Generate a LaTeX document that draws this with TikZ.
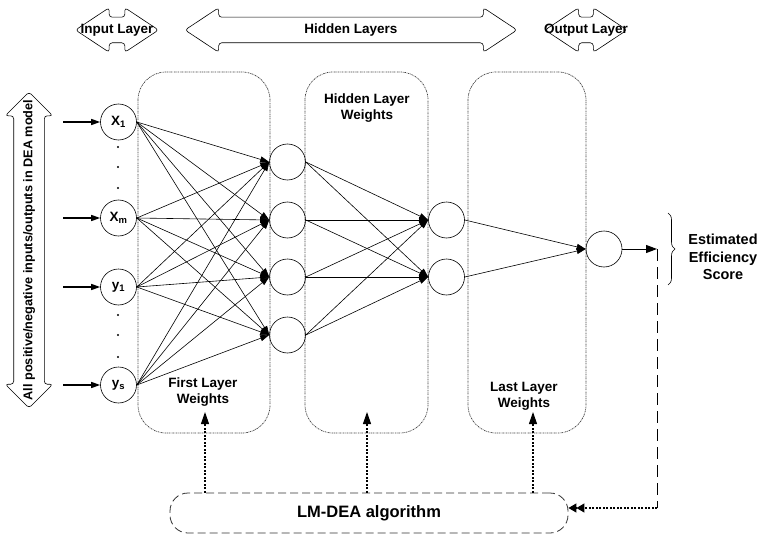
\documentclass[tikz,border=0pt]{standalone}
\usepackage{fontspec}
\setmainfont{Liberation Sans}
\usetikzlibrary{shapes.arrows,arrows.meta,decorations.pathreplacing}

\tikzset{
  neuron/.style={draw, circle, minimum size=36pt, inner sep=0pt, line width=0.6pt},
  layerarrow/.style={draw, double arrow, double arrow head extend=9.5pt,
    double arrow tip angle=67, inner sep=12.5pt, rounded corners=3pt, line width=0.6pt},
  wbox/.style={draw=black!75, dash pattern=on 1.5pt off 0.8pt on 0.6pt off 0.8pt, rounded corners=28pt, line width=0.7pt},
  wlabel/.style={align=center},
  link/.style={-{Triangle[length=9pt,width=6pt]}, line width=0.6pt},
  feed/.style={-{Triangle[length=9pt,width=6pt]}, line width=1.3pt},
  update/.style={-{Triangle[length=12pt,width=8pt]}, dash pattern=on 2pt off 1.5pt, line width=1.1pt},
}

\begin{document}
\begin{tikzpicture}[x=1pt, y=-1pt, font=\fontsize{13.5}{16}\selectfont\bfseries]
    \useasboundingbox (0,0) rectangle (761,535);
    % layer captions
    \node[layerarrow, minimum height=83, label=center:{Input Layer}] (inlayer) at (117,30) {};
    \node[layerarrow, minimum height=332, label=center:{Hidden Layers}] (hidlayer) at (351,30) {};
    \node[layerarrow, minimum height=82, label=center:{Output Layer}] (outlayer) at (586,30) {};
    \node[layerarrow, shape border rotate=90, double arrow tip angle=90, double arrow head extend=8.5pt,
      inner sep=15pt, minimum height=316,
      label={[rotate=90, font=\fontsize{12.7}{15}\selectfont\bfseries]center:{All positive/negative inputs/outputs in DEA model}}] (dea) at (29,250) {};
    % weight boxes
    \draw[wbox] (138,72) rectangle (270,433);
    \draw[wbox] (305,72) rectangle (428,433);
    \draw[wbox] (468,72) rectangle (586,433);
    \node[wlabel] (w1) at (203,392) {First Layer\\Weights};
    \node[wlabel] (w2) at (367,108) {Hidden Layer\\Weights};
    \node[wlabel] (w3) at (524,396) {Last Layer\\Weights};
    % neurons
    \node[neuron] (in1) at (118.5,122) {X\textsubscript{1}};
    \node[neuron] (in2) at (118.5,218) {X\textsubscript{m}};
    \node[neuron] (in3) at (118.5,287) {y\textsubscript{1}};
    \node[neuron] (in4) at (118.5,385) {y\textsubscript{s}};
    \node[neuron] (ha1) at (287.5,162) {};
    \node[neuron] (ha2) at (287.5,220) {};
    \node[neuron] (ha3) at (287.5,277) {};
    \node[neuron] (ha4) at (287.5,335) {};
    \node[neuron] (hb1) at (446.5,220) {};
    \node[neuron] (hb2) at (446.5,277) {};
    \node[neuron] (out) at (604,249) {};
    \foreach \y in {147,167,188,315,335,357}
      \fill (118,\y) circle (1.1);
    % connections
    \foreach \i in {1,...,4}
      \draw[feed] (in\i.west) ++(-37,0) -- (in\i.west);
    \foreach \i in {1,...,4}
      \foreach \j in {1,...,4}
        \draw[link] (in\i.east) -- (ha\j.west);
    \foreach \i in {1,...,4}
      \foreach \j in {1,2}
        \draw[link] (ha\i.east) -- (hb\j.west);
    \foreach \j in {1,2}
      \draw[link] (hb\j.east) -- (out.west);
    % training loop
    \coordinate (fb) at (657,249);
    \coordinate (fc) at (657,508);
    \draw[feed, line width=1pt, -{Triangle[length=11pt,width=8pt]}] (out.east) -- (fb);
    \draw[line width=1pt, dash pattern=on 12pt off 6pt] (fb) -- (fc);
    \node[draw=black!80, dash pattern=on 8pt off 4pt, rounded corners=18pt, line width=0.8pt,
      minimum width=398, minimum height=40, font=\fontsize{16.5}{18}\selectfont\bfseries] (lm) at (369,513) {LM-DEA algorithm};
    \draw[dash pattern=on 2pt off 1.5pt, line width=1.1pt,
      -{Triangle[length=8pt,width=9pt]Triangle[length=8pt,width=9pt]}] (fc) -- (fc -| lm.east);
    \coordinate (t1) at (205,412);
    \coordinate (t2) at (367,412);
    \coordinate (t3) at (533,412);
    \draw[update] (lm.north -| t1) -- (t1);
    \draw[update] (lm.north -| t2) -- (t2);
    \draw[update] (lm.north -| t3) -- (t3);
    % result
    \coordinate (bt) at (668,213);
    \coordinate (bb) at (668,285);
    \draw[decorate, decoration={brace, amplitude=7pt}, line width=0.6pt] (bt) -- (bb);
    \node[wlabel, font=\fontsize{14.5}{17.5}\selectfont\bfseries] (score) at (723,257) {Estimated\\Efficiency\\Score};
  \end{tikzpicture}
\end{document}
